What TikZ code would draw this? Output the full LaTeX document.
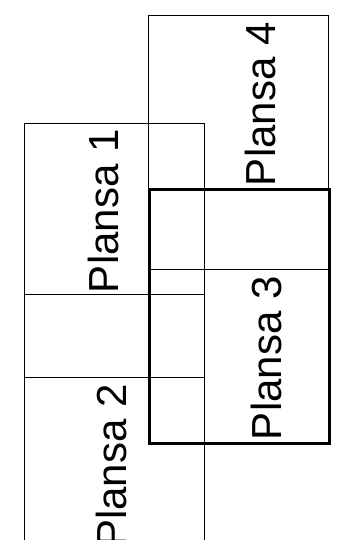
\documentclass[tikz,border=0pt]{standalone}
\usepackage{fontspec}
\setmainfont{Liberation Sans}
\begin{document}
\begin{tikzpicture}[x=1bp,y=-1bp,
  sheet/.style={draw=black,line width=0.9bp,minimum width=180bp,minimum height=254bp,anchor=north west,inner sep=0pt},
  thicksheet/.style={sheet,line width=3bp},
  lbl/.style={rotate=90,anchor=base west,inner sep=0pt,font=\fontsize{42bp}{48bp}\selectfont}]
\clip (0,0) rectangle (349,540);
\fill[white] (0,0) rectangle (349,540);
\node[sheet] (p4) at (148.3,14.7) {};
\node[sheet] (p1) at (24,122.7) {};
\node[sheet] (p2) at (24,294.3) {};
\node[thicksheet] (p3) at (148.3,187.7) {};
\node[lbl] (t4) at (275,186.2) {Plansa 4};
\node[lbl] (t1) at (118,293.2) {Plansa 1};
\node[lbl] (t3) at (281.7,440.2) {Plansa 3};
\node[lbl] (t2) at (126,548) {Plansa 2};
\end{tikzpicture}
\end{document}
